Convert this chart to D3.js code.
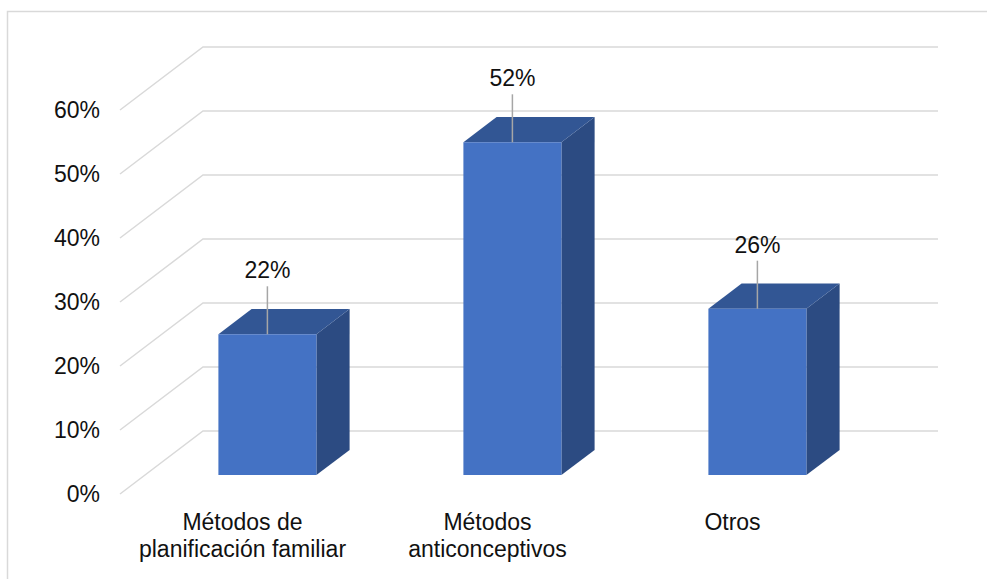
<!DOCTYPE html>
<html>
<head>
<meta charset="utf-8">
<script src="https://cdn.jsdelivr.net/npm/d3@7"></script>
<style>
  html, body { margin: 0; padding: 0; background: #fff; }
  svg { display: block; font-family: "Liberation Sans", Arial, sans-serif; }
</style>
</head>
<body>
<div id="chart"></div>
<script>
const width = 987;
const height = 579;

const categories = ['Métodos de planificación familiar', 'Métodos anticonceptivos', 'Otros'];
const labelLines = [['Métodos de', 'planificación familiar'], ['Métodos', 'anticonceptivos'], ['Otros']];
const values = [0.22, 0.52, 0.26];
const ticks = [0, 0.1, 0.2, 0.3, 0.4, 0.5, 0.6];

// front plane of the 3d box
const front = { left: 120, right: 855, bottom: 494, top: 110 };
const depth = { dx: 83, dy: -63 };
const barZ = [0.3, 0.7];
const fontSize = '23px';

const svg = d3.select('#chart')
  .append('svg')
  .attr('width', width)
  .attr('height', height);

// chart border
svg.append('rect')
  .attr('x', 7.5).attr('y', 11.5)
  .attr('width', 1000).attr('height', 600)
  .attr('fill', 'none')
  .attr('stroke', '#d9d9d9')
  .attr('stroke-width', 1.5);

const x = d3.scaleBand()
  .domain(d3.range(categories.length))
  .range([front.left, front.right])
  .padding(0);

const y = d3.scaleLinear()
  .domain([0, 0.6])
  .range([front.bottom, front.top]);

const z = d3.scaleLinear().domain([0, 1]);
const px = (xv, zv) => xv + z.range([0, depth.dx])(zv);
const py = (yv, zv) => yv + z.range([0, depth.dy])(zv);

// gridlines: side wall diagonal + back wall horizontal
const grid = svg.append('g')
  .attr('fill', 'none')
  .attr('stroke', '#d9d9d9')
  .attr('stroke-width', 1.5);

grid.selectAll('path')
  .data(ticks)
  .join('path')
    .attr('d', t => {
      const p = d3.path();
      p.moveTo(px(front.left, 0), py(y(t), 0));
      p.lineTo(px(front.left, 1), py(y(t), 1));
      p.lineTo(px(front.right, 1), py(y(t), 1));
      return p.toString();
    });

// y labels
svg.append('g')
  .selectAll('text')
  .data(ticks)
  .join('text')
    .attr('x', 100)
    .attr('y', t => y(t))
    .attr('dy', '0.36em')
    .attr('text-anchor', 'end')
    .attr('font-size', fontSize)
    .attr('fill', '#111')
    .text(d3.format('.0%'));

// bars
const barW = x.bandwidth() * 0.4;
const bars = svg.append('g')
  .selectAll('g')
  .data(values)
  .join('g');

const corner = (i, v, side, zv) => {
  const cx = x(i) + x.bandwidth() / 2;
  const xv = side === 'l' ? cx - barW / 2 : cx + barW / 2;
  return [px(xv, zv), py(y(v), zv)];
};

// right side
bars.append('path')
  .attr('fill', '#2c4b82')
  .attr('d', (d, i) => d3.line()([
    corner(i, 0, 'r', barZ[0]), corner(i, 0, 'r', barZ[1]),
    corner(i, d, 'r', barZ[1]), corner(i, d, 'r', barZ[0])
  ]) + 'Z');

// top
bars.append('path')
  .attr('fill', '#325694')
  .attr('d', (d, i) => d3.line()([
    corner(i, d, 'l', barZ[0]), corner(i, d, 'r', barZ[0]),
    corner(i, d, 'r', barZ[1]), corner(i, d, 'l', barZ[1])
  ]) + 'Z');

// front
bars.append('path')
  .attr('fill', '#4472c4')
  .attr('d', (d, i) => d3.line()([
    corner(i, 0, 'l', barZ[0]), corner(i, 0, 'r', barZ[0]),
    corner(i, d, 'r', barZ[0]), corner(i, d, 'l', barZ[0])
  ]) + 'Z');

// data labels with leader lines
const cxFront = i => px(x(i) + x.bandwidth() / 2, barZ[0]);
const topFront = d => py(y(d), barZ[0]);

bars.append('line')
  .attr('x1', (d, i) => cxFront(i))
  .attr('x2', (d, i) => cxFront(i))
  .attr('y1', d => topFront(d) - 48)
  .attr('y2', d => topFront(d))
  .attr('stroke', '#a6a6a6')
  .attr('stroke-width', 1.5);

bars.append('text')
  .attr('x', (d, i) => cxFront(i))
  .attr('y', d => topFront(d) - 56)
  .attr('text-anchor', 'middle')
  .attr('font-size', fontSize)
  .attr('fill', '#111')
  .text(d3.format('.0%'));

// category labels
svg.append('g')
  .selectAll('text')
  .data(labelLines)
  .join('text')
    .attr('x', (d, i) => x(i) + x.bandwidth() / 2)
    .attr('y', 530)
    .attr('text-anchor', 'middle')
    .attr('font-size', fontSize)
    .attr('fill', '#111')
    .selectAll('tspan')
    .data(d => d)
    .join('tspan')
      .attr('x', function () { return this.parentNode.getAttribute('x'); })
      .attr('dy', (d, j) => j === 0 ? 0 : 27)
      .text(d => d);
</script>
</body>
</html>
